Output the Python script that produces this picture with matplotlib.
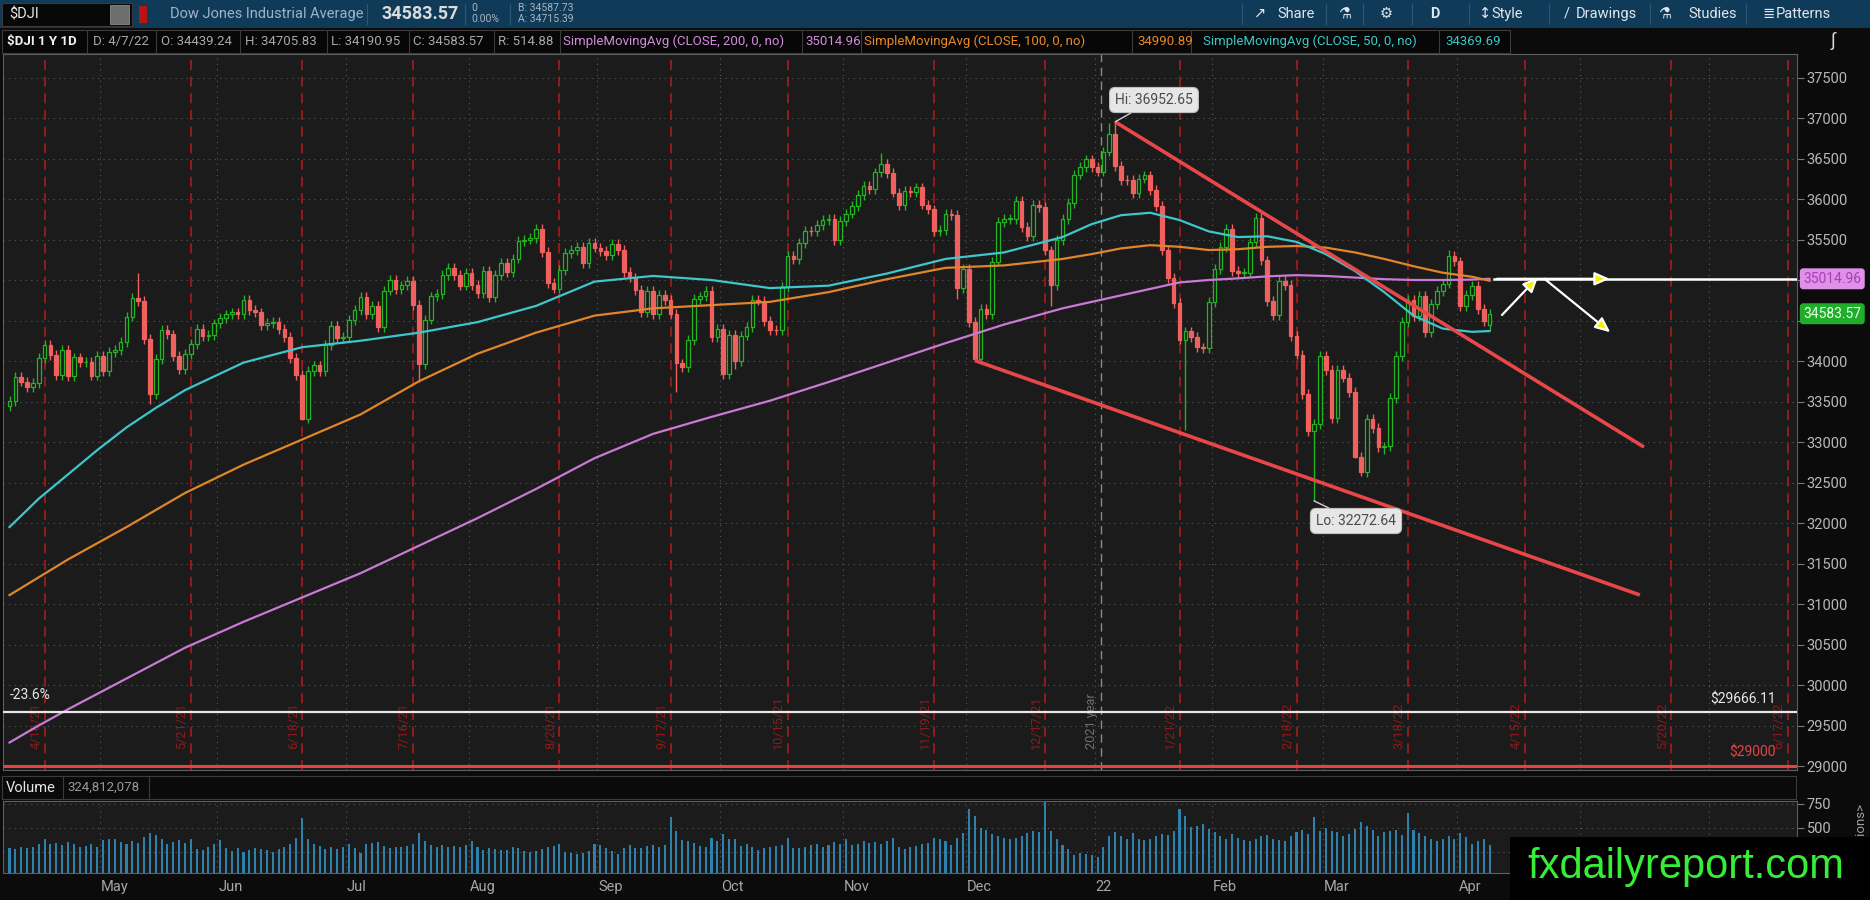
import numpy as np
import matplotlib.pyplot as plt
from matplotlib.patches import Rectangle, FancyArrowPatch

plt.rcParams['font.family'] = ['Roboto', 'DejaVu Sans']

# ---- data (daily, 4/8/21 .. 4/7/22) ----
closes = [
    # Apr 2021
    33503.57, 33800.60, 33745.40, 33677.27, 33730.89, 34035.99, 34200.67, 34077.63, 33821.30, 34137.31,
    33815.90, 34043.49, 33981.57, 33984.93, 33820.38, 34060.36, 33874.85,
    # May
    34113.23, 34133.03, 34230.34, 34548.53, 34777.76, 34742.82, 34269.16, 33587.66, 34021.45, 34382.13,
    34327.79, 34060.66, 33896.04, 34084.15, 34207.84, 34393.98, 34312.46, 34323.05, 34464.64, 34529.45,
    # Jun
    34575.31, 34600.38, 34577.37, 34756.39, 34630.24, 34599.82, 34447.14, 34466.24, 34479.60, 34393.75,
    34299.33, 34033.67, 33823.45, 33290.08, 33876.97, 33945.58, 33874.24, 34196.82, 34433.84, 34283.27,
    34292.29, 34502.51,
    # Jul
    34633.53, 34786.35, 34577.37, 34681.79, 34421.93, 34870.16, 34996.18, 34888.79, 34933.23, 34987.02,
    34687.85, 33962.04, 34511.99, 34798.00, 34823.35, 35061.55, 35144.31, 35058.52, 34930.93, 35084.53,
    34935.47,
    # Aug
    34838.16, 35116.40, 34792.67, 35064.25, 35208.51, 35101.85, 35264.67, 35484.97, 35499.85, 35515.38,
    35625.40, 35343.28, 34960.69, 34894.12, 35120.08, 35335.71, 35366.26, 35405.50, 35213.12, 35455.80,
    35399.84, 35360.73,
    # Sep
    35312.53, 35443.82, 35369.09, 35100.00, 35031.07, 34879.38, 34607.72, 34869.63, 34577.57, 34814.39,
    34751.32, 34584.88, 33970.47, 33919.84, 34258.32, 34764.82, 34798.00, 34869.37, 34299.99, 34390.72,
    33843.92,
    # Oct
    34326.46, 34002.92, 34314.67, 34416.99, 34754.94, 34746.25, 34496.06, 34378.34, 34377.81, 34912.56,
    35294.76, 35258.61, 35457.31, 35609.34, 35603.08, 35677.02, 35741.15, 35756.88, 35490.69, 35730.48,
    35819.56,
    # Nov
    35913.84, 36052.63, 36157.58, 36124.23, 36327.95, 36432.22, 36319.98, 36079.94, 35921.23, 36100.31,
    36087.45, 36142.22, 35931.05, 35870.95, 35601.98, 35619.25, 35813.80, 35804.38, 34899.34, 35135.94,
    34483.72,
    # Dec
    34022.04, 34639.79, 34580.08, 35227.03, 35719.43, 35754.43, 35754.69, 35970.99, 35650.95, 35544.18,
    35927.43, 35897.64, 35365.44, 34932.16, 35492.70, 35753.89, 35950.56, 36302.38, 36398.21, 36488.63,
    36398.08, 36338.30,
    # Jan 2022
    36585.06, 36799.65, 36407.11, 36236.47, 36231.66, 36068.87, 36252.02, 36290.32, 36113.62, 35911.81,
    35368.47, 35028.65, 34715.39, 34265.37, 34364.50, 34297.73, 34168.09, 34160.78, 34725.47, 35131.86,
    # Feb
    35405.24, 35629.33, 35111.16, 35089.74, 35091.13, 35463.43, 35768.06, 35241.59, 34738.06, 34566.17,
    34988.84, 34934.27, 34312.03, 34079.18, 33596.61, 33131.76, 33223.83, 34058.75, 33892.60,
    # Mar
    33294.95, 33891.35, 33794.66, 33614.80, 32817.38, 32632.64, 33286.25, 33174.07, 32944.19, 32945.24,
    33544.34, 34063.10, 34480.76, 34754.93, 34552.99, 34807.46, 34358.50, 34707.94, 34861.24, 34955.89,
    35294.19, 35228.81, 34678.35,
    # Apr
    34818.27, 34921.88, 34641.18, 34496.51, 34583.57,
]
first_open = 33446.26
last_open = 34439.24

# intraday extremes that stand out on the chart (index -> price)
high_marks = {22: 35091.56, 149: 36565.73, 188: 36934.84, 189: 36952.65, 213: 35824.28, 246: 35372.27}
low_marks = {24: 33473.80, 50: 33271.93, 70: 33741.76, 114: 33613.03, 124: 33900.00, 162: 34768.30,
             165: 34006.98, 178: 34682.00, 201: 33150.33, 223: 32272.64, 230: 32797.00, 231: 32578.76,
             234: 32880.00, 235: 32850.00}

# volume, millions
volumes = [
    290, 280, 300, 290, 300, 330, 390, 330, 340, 320, 350, 330, 300, 310, 330, 300, 370,
    380, 390, 350, 330, 360, 340, 410, 450, 430, 390, 330, 350, 370, 340, 390, 280, 270, 300, 330, 370,
    290, 260, 290, 250, 270, 290, 280, 270, 250, 280, 300, 330, 400, 600, 380, 330, 310, 280, 300, 280, 300, 330,
    290, 240, 330, 340, 350, 310, 290, 300, 300, 310, 330, 450, 360, 320, 300, 320, 300, 310, 300, 320, 360,
    300, 270, 290, 280, 270, 270, 300, 290, 260, 250, 260, 280, 300, 310, 330, 250, 240, 230, 240, 260, 330, 320,
    290, 260, 230, 290, 320, 290, 290, 310, 320, 300, 320, 610, 470, 370, 360, 340, 310, 300, 400, 360, 440,
    380, 390, 310, 330, 300, 270, 290, 300, 310, 320, 400, 290, 290, 300, 320, 330, 300, 320, 350, 330, 380,
    320, 330, 360, 340, 350, 330, 360, 400, 300, 280, 300, 310, 330, 340, 400, 380, 360, 320, 400, 450, 700,
    620, 500, 480, 440, 420, 400, 380, 400, 420, 450, 470, 460, 770, 470, 380, 320, 280, 220, 240, 230, 220, 200,
    300, 420, 460, 420, 380, 450, 390, 370, 380, 420, 440, 430, 470, 700, 620, 510, 520, 540, 490, 460,
    420, 380, 440, 400, 370, 360, 380, 420, 430, 380, 370, 360, 420, 460, 480, 440, 610, 470, 500,
    470, 460, 420, 440, 490, 560, 520, 480, 420, 460, 470, 480, 430, 660, 480, 450, 420, 390, 360, 380, 420, 390, 450,
    410, 330, 360, 380, 325,
]

# moving averages
ma_idx = [0, 5, 10, 15, 20, 25, 30, 40, 50, 60, 70, 80, 90, 100, 110, 120, 130, 140, 150, 160, 170, 180,
          185, 190, 195, 200, 205, 210, 215, 220, 225, 230, 235, 240, 245, 250, 253]
sma50 = [31950, 32300, 32600, 32900, 33180, 33420, 33640, 33980, 34170, 34250, 34350, 34480, 34680, 34980,
         35050, 35000, 34900, 34930, 35080, 35260, 35340, 35530, 35690, 35800, 35830, 35740, 35600, 35530,
         35540, 35470, 35320, 35110, 34850, 34560, 34400, 34360, 34369.69]
sma100 = [31110, 31330, 31550, 31750, 31950, 32160, 32370, 32720, 33030, 33340, 33750, 34090, 34350, 34560,
          34650, 34690, 34730, 34850, 35010, 35150, 35180, 35260, 35320, 35390, 35430, 35410, 35370, 35380,
          35410, 35420, 35400, 35340, 35260, 35170, 35090, 35040, 34990.89]
sma200 = [29290, 29500, 29700, 29890, 30080, 30270, 30460, 30780, 31080, 31380, 31720, 32060, 32420, 32800,
          33100, 33310, 33510, 33740, 33980, 34220, 34450, 34650, 34730, 34810, 34890, 34970, 35000, 35020,
          35045, 35060, 35050, 35030, 35010, 35000, 35000, 35005, 35014.96]

# x-axis: first bar of each month, and monthly expiration dates
month_idx = [17, 37, 59, 80, 102, 123, 144, 165, 187, 207, 226, 249, 270, 292]
month_names = ['May', 'Jun', 'Jul', 'Aug', 'Sep', 'Oct', 'Nov', 'Dec', '22', 'Feb', 'Mar', 'Apr', '', '']
opex_idx = [6, 31, 50, 69, 94, 113, 133, 158, 177, 200, 220, 239, 259, 284, 304]
opex_labels = ['4/16/21', '5/21/21', '6/18/21', '7/16/21', '8/20/21', '9/17/21', '10/15/21', '11/19/21',
               '12/17/21', '1/21/22', '2/18/22', '3/18/22', '4/15/22', '5/20/22', '6/17/22']

# drawings
upper_trend = ([189, 279.4], [36952.65, 32938])
lower_trend = ([165, 278.7], [34006.98, 31111])
fib_level = 29666.11
support_level = 29000
sma200_last = 35014.96
last_close = 34583.57

# ---- layout helpers (pixel coordinates of the 1870x900 picture) ----
W, H = 1870, 900
BG = '#1b1b1b'
def px_x(px):
    return (px - 9.5) / 5.85
def px_y(py):
    return 37500 - (py - 77.5) / 0.081
def fx(px):
    return px / W
def fy(py):
    return 1 - py / H

fig = plt.figure(figsize=(W / 100, H / 100), dpi=100, facecolor='#0b0b0b')

ax = fig.add_axes([fx(3), fy(770), fx(1797) - fx(3), fy(54) - fy(770)], facecolor=BG)
axv = fig.add_axes([fx(3), fy(873), fx(1797) - fx(3), fy(801) - fy(873)], facecolor=BG)

n = len(closes)
x = np.arange(n)
c = np.array(closes)
o = np.array([first_open] + closes[:-1])
o[-1] = last_open
hi = np.maximum(o, c) + 60
lo = np.minimum(o, c) - 60
for k, v in high_marks.items():
    hi[k] = v
for k, v in low_marks.items():
    lo[k] = v

GREEN = '#22b422'
RED = '#f0605e'
up = c >= o
cols = np.where(up, GREEN, RED)
faces = np.where(up, BG, RED)

xlim = (px_x(3), px_x(1797))
ylim = (px_y(770), px_y(54))

# grid
for p in range(29000, 38000, 500):
    ax.axhline(p, color='#5a5a5a', lw=0.8, ls=(0, (1, 4)), zorder=1)
for m in month_idx:
    for a in (ax, axv):
        a.axvline(m - 1.5, color='#5a5a5a', lw=0.8, ls=(0, (1, 4)), zorder=1)
for v in (250, 500, 750):
    axv.axhline(v, color='#5a5a5a', lw=0.8, ls=(0, (1, 4)), zorder=1)

# expiration lines + labels
for i, lab in zip(opex_idx, opex_labels):
    ax.axvline(i, color='#a81c1c', lw=1.2, ls=(0, (6, 4)), zorder=1.5)
    ax.text(i - 0.4, px_y(749), lab, rotation=90, ha='right', va='bottom', color='#8e1a1a',
            fontsize=9.2, zorder=1.6)
ax.axvline(186.5, color='#8a8a8a', lw=1.0, ls=(0, (6, 4)), zorder=1.5)
ax.text(186.1, px_y(749), '2021 year', rotation=90, ha='right', va='bottom', color='#6e6e6e',
        fontsize=9.2, zorder=1.6)

# candles
ax.vlines(x, lo, hi, colors=cols, lw=1.0, zorder=3)
ax.bar(x, np.maximum(np.abs(c - o), 8), bottom=np.minimum(o, c), width=0.62, color=faces,
       edgecolor=cols, lw=0.9, zorder=4)

# moving averages
ax.plot(ma_idx, sma200, color='#c97ad6', lw=1.6, zorder=5)
ax.plot(ma_idx, sma100, color='#e0862a', lw=1.6, zorder=5)
ax.plot(ma_idx, sma50, color='#3ec6cc', lw=1.6, zorder=5)

# horizontal levels
ax.axhline(fib_level, color='#e8e8e8', lw=1.6, zorder=5)
ax.axhline(support_level, color='#e04444', lw=2.2, zorder=5)
ax.text(px_x(10), fib_level + 120, '-23.6%', color='#e8e8e8', fontsize=10, va='bottom', ha='left')
ax.text(px_x(1776), fib_level + 70, '$29666.11', color='#e8e8e8', fontsize=10, va='bottom', ha='right')
ax.text(px_x(1776), support_level + 75, '$29000', color='#e04444', fontsize=10, va='bottom', ha='right')

# trend channel
ax.plot(*upper_trend, color='#e8474a', lw=2.6, zorder=6, solid_capstyle='butt')
ax.plot(*lower_trend, color='#e8474a', lw=2.6, zorder=6, solid_capstyle='butt')

# projected path
ax.plot([253.8, xlim[1]], [sma200_last, sma200_last], color='white', lw=1.8, zorder=7)
arrows = [((253.8, sma200_last), (274.0, sma200_last)),
          ((254.8, 34543), (261.6, 35060)),
          ((262.0, 35037), (274.0, 34333))]
for start, end in arrows:
    ax.add_patch(FancyArrowPatch(start, end, arrowstyle='-|>,head_length=9,head_width=4',
                                 mutation_scale=1, lw=1.6, ec='white', fc='#f4f000', zorder=8))

# high / low callouts
box = dict(boxstyle='round,pad=0.4,rounding_size=0.4', fc='#e6e6e6', ec='#bdbdbd', lw=0.8)
ax.annotate('Hi: 36952.65', xy=(189, 36952.65), xytext=(px_x(1154), px_y(100)), ha='center', va='center',
            fontsize=10, color='#4a4a4a', bbox=box, zorder=9,
            arrowprops=dict(arrowstyle='-', color='#d0d0d0', lw=1.0, shrinkA=0, shrinkB=0))
ax.annotate('Lo: 32272.64', xy=(223, 32272.64), xytext=(px_x(1356), px_y(521)), ha='center', va='center',
            fontsize=10, color='#4a4a4a', bbox=box, zorder=9,
            arrowprops=dict(arrowstyle='-', color='#d0d0d0', lw=1.0, shrinkA=0, shrinkB=0))

ax.set_xlim(*xlim)
ax.set_ylim(*ylim)
ax.yaxis.tick_right()
price_ticks = list(range(29000, 38000, 500))
ax.set_yticks(price_ticks)
# 35000 and 34500 sit under the price markers
ax.set_yticklabels(['' if t in (35000, 34500) else str(t) for t in price_ticks])
ax.tick_params(axis='y', colors='#7a7a7a', labelcolor='#b8b8b8', labelsize=10.5, length=5, pad=2)
ax.set_xticks([])
for s in ax.spines.values():
    s.set_color('#5e5e5e')

# price markers on the axis
ax.text(1.0035, sma200_last, '35014.96', transform=ax.get_yaxis_transform(), ha='left', va='center',
        fontsize=10, color='#a640b4', zorder=10,
        bbox=dict(boxstyle='round,pad=0.2,rounding_size=0.2', fc='#e190ea', ec='#e190ea'))
ax.text(1.0035, last_close, '34583.57', transform=ax.get_yaxis_transform(), ha='left', va='center',
        fontsize=10, color='#eaffea', zorder=10,
        bbox=dict(boxstyle='round,pad=0.2,rounding_size=0.2', fc='#1fae2a', ec='#1fae2a'))

# volume
axv.bar(x, volumes, width=0.35, color='#2d81aa', zorder=3)
axv.set_xlim(*xlim)
axv.set_ylim(31, 781)
axv.yaxis.tick_right()
axv.set_yticks([500, 750])
axv.tick_params(axis='y', colors='#7a7a7a', labelcolor='#b8b8b8', labelsize=10.5, length=5, pad=2)
axv.set_xticks([])
for s in axv.spines.values():
    s.set_color('#5e5e5e')

# month labels
for m, name in zip(month_idx, month_names):
    if name:
        px = 9.5 + (m - 1.5) * 5.85
        fig.text(fx(px + 1), fy(887), name, color='#a6a6a6', fontsize=10.5, ha='left', va='center')

# ---- header bars ----
fig.add_artist(Rectangle((0, fy(28)), 1, 1 - fy(28), transform=fig.transFigure, fc='#0f3a58', ec='none'))
fig.add_artist(Rectangle((fx(2), fy(26)), fx(130), fy(3) - fy(26), transform=fig.transFigure,
                         fc='#080808', ec='#3a3a3a', lw=0.8))
fig.add_artist(Rectangle((fx(110), fy(24)), fx(19), fy(5) - fy(24), transform=fig.transFigure,
                         fc='#6e6e6e', ec='#8a8a8a', lw=0.6))
fig.add_artist(Rectangle((fx(139), fy(23)), fx(8), fy(6) - fy(23), transform=fig.transFigure,
                         fc='#b81414', ec='none'))
fig.text(fx(9), fy(14), '$DJI', color='#e8e8e8', fontsize=10.5, va='center')
fig.text(fx(170), fy(14), 'Dow Jones Industrial Average', color='#9fb3c6', fontsize=10.5, va='center')
fig.text(fx(381), fy(14), '34583.57', color='#dcdcdc', fontsize=13, fontweight='bold', va='center')
fig.text(fx(471), fy(8), '0', color='#a8b4c0', fontsize=7.5, va='center')
fig.text(fx(471), fy(19), '0.00%', color='#a8b4c0', fontsize=7.5, va='center')
fig.text(fx(518), fy(8), 'B: 34587.73', color='#a8b4c0', fontsize=7.5, va='center')
fig.text(fx(518), fy(19), 'A: 34715.39', color='#a8b4c0', fontsize=7.5, va='center')
for sx in (367, 465, 510, 1242, 1326, 1363, 1412, 1469, 1549, 1650, 1746):
    fig.add_artist(plt.Line2D([fx(sx), fx(sx)], [fy(4), fy(24)], color='#2a5878', lw=0.8))
for txt, px in [('\u2197', 1254), ('Share', 1277), ('\u2697', 1338), ('\u2699', 1380), ('D', 1430),
                ('\u2195', 1479), ('Style', 1491), ('/', 1564), ('Drawings', 1576), ('\u2697', 1658),
                ('Studies', 1688), ('\u2263', 1762), ('Patterns', 1776)]:
    fig.text(fx(px), fy(14), txt, color='#e0e6ec', fontsize=10.5, va='center',
             fontweight='bold' if txt == 'D' else 'normal')

# study legend row
fig.add_artist(Rectangle((fx(2), fy(53)), fx(1508), fy(30) - fy(53), transform=fig.transFigure,
                         fc='#070707', ec='#3c3c3c', lw=0.8))
for sx in (86.5, 156, 240, 327, 408.6, 494, 559.5, 802, 860.6, 1131.8, 1191, 1439):
    fig.add_artist(plt.Line2D([fx(sx), fx(sx)], [fy(30), fy(53)], color='#3c3c3c', lw=0.8))
legend_items = [
    ('$DJI 1 Y 1D', 7, '#f0f0f0', 'bold'), ('D: 4/7/22', 93, '#a8a8a8', 'normal'),
    ('O: 34439.24', 161, '#a8a8a8', 'normal'), ('H: 34705.83', 245, '#a8a8a8', 'normal'),
    ('L: 34190.95', 331, '#a8a8a8', 'normal'), ('C: 34583.57', 413, '#a8a8a8', 'normal'),
    ('R: 514.88', 498, '#a8a8a8', 'normal'),
    ('SimpleMovingAvg (CLOSE, 200, 0, no)', 563, '#d58be0', 'normal'), ('35014.96', 805, '#d58be0', 'normal'),
    ('SimpleMovingAvg (CLOSE, 100, 0, no)', 864, '#e8892a', 'normal'), ('34990.89', 1137, '#e8892a', 'normal'),
    ('SimpleMovingAvg (CLOSE, 50, 0, no)', 1203, '#3cc8c8', 'normal'), ('34369.69', 1445, '#3cc8c8', 'normal'),
]
for txt, px, col, w in legend_items:
    fig.text(fx(px), fy(41.5), txt, color=col, fontsize=9.5, fontweight=w, va='center')
fig.text(fx(1833), fy(41), '\u222b', color='#d8d8d8', fontsize=13, ha='center', va='center')

# volume header row
fig.add_artist(Rectangle((fx(2), fy(799)), fx(1794), fy(776) - fy(799), transform=fig.transFigure,
                         fc='#0a0a0a', ec='#3c3c3c', lw=0.8))
for sx in (63, 149):
    fig.add_artist(plt.Line2D([fx(sx), fx(sx)], [fy(776), fy(799)], color='#3c3c3c', lw=0.8))
fig.text(fx(6), fy(787.5), 'Volume', color='#e6e6e6', fontsize=10.5, va='center')
fig.text(fx(67), fy(787.5), '324,812,078', color='#9a9a9a', fontsize=9.5, va='center')
fig.text(fx(1861), fy(803), '<millions>', color='#a0a0a0', fontsize=9.5, rotation=90, ha='center', va='top')

# watermark
fig.add_artist(Rectangle((fx(1510), 0), 1 - fx(1510), fy(837), transform=fig.transFigure,
                         fc='black', ec='none', zorder=20))
fig.text(fx(1527), fy(867), 'fxdailyreport.com', color='#35ee35', fontsize=30,
         family=['Liberation Sans', 'DejaVu Sans'], va='center', ha='left', zorder=21)

fig.savefig('out.png', dpi=100, facecolor=fig.get_facecolor())
